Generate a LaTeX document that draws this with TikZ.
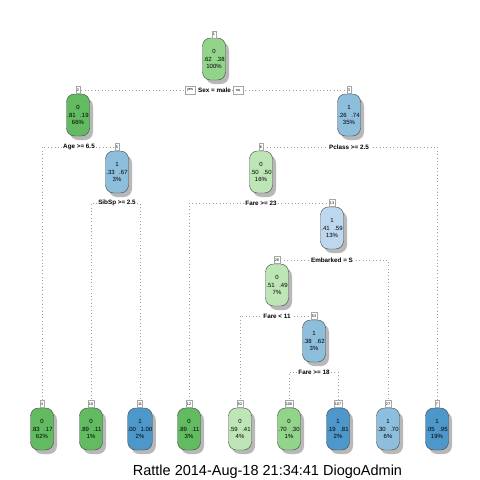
\documentclass[tikz,border=0pt]{standalone}
\usepackage{fontspec}
\setmainfont{Liberation Sans}
\usetikzlibrary{shadows}
\pgfdeclarelayer{bg}
\pgfdeclarelayer{back}
\pgfsetlayers{back,bg,main}
\definecolor{gD}{HTML}{62BB60}
\definecolor{gM}{HTML}{93D48B}
\definecolor{gL}{HTML}{BEE5B5}
\definecolor{bD}{HTML}{4E97CB}
\definecolor{bM}{HTML}{8DBEDC}
\definecolor{bL}{HTML}{BDD7EE}
\tikzset{
  tn/.style={draw=gray!55!black, line width=0.4pt, rounded corners=8pt,
    minimum width=23pt, minimum height=42pt, inner sep=0pt, align=center,
    font=\fontsize{6}{7.5}\selectfont,
    drop shadow={shadow xshift=3.5pt, shadow yshift=-4pt, fill=gray!65, opacity=0.85}},
  lab/.style={draw=gray!70, fill=white, line width=0.3pt,
    font=\fontsize{3.8}{4}\selectfont, inner sep=0.6pt,
    minimum height=7pt, minimum width=4.5pt},
  yn/.style={draw=gray!70, fill=white, line width=0.3pt,
    font=\fontsize{3.8}{4}\selectfont, inner sep=0.6pt,
    minimum height=8pt, minimum width=10pt},
  spl/.style={fill=white, font=\bfseries\fontsize{6.3}{7}\selectfont, inner sep=1.2pt},
  dl/.style={draw=gray!75, line width=0.7pt, dash pattern=on 0.7pt off 2.7pt},
}
\newcommand{\pr}[2]{#1\hspace{4.5pt}#2}
\begin{document}
\begin{tikzpicture}[x=1pt,y=-1pt]
\begin{pgfonlayer}{back}
\fill[white] (0,0) rectangle (480,480);
\end{pgfonlayer}
\useasboundingbox (0,0) rectangle (480,480);
% internal nodes
\node[tn, fill=gM] (n1) at (214,59) {0\\\pr{.62}{.38}\\100\%};
\node[tn, fill=gD] (n2) at (78,115) {0\\\pr{.81}{.19}\\66\%};
\node[tn, fill=bM] (n3) at (349,115) {1\\\pr{.26}{.74}\\35\%};
\node[tn, fill=bM] (n5) at (117,172) {1\\\pr{.33}{.67}\\3\%};
\node[tn, fill=gL] (n6) at (261,172) {0\\\pr{.50}{.50}\\16\%};
\node[tn, fill=bL] (n13) at (332,228) {1\\\pr{.41}{.59}\\13\%};
\node[tn, fill=gL] (n26) at (277,285) {0\\\pr{.51}{.49}\\7\%};
\node[tn, fill=bM] (n53) at (314,341) {1\\\pr{.38}{.62}\\3\%};
% leaves
\node[tn, fill=gD] (n4) at (42,429) {0\\\pr{.83}{.17}\\62\%};
\node[tn, fill=gD] (n10) at (91,429) {0\\\pr{.89}{.11}\\1\%};
\node[tn, fill=bD] (n11) at (140,429) {1\\\pr{.00}{1.00}\\2\%};
\node[tn, fill=gD] (n12) at (189,429) {0\\\pr{.89}{.11}\\3\%};
\node[tn, fill=gL] (n52) at (240,429) {0\\\pr{.59}{.41}\\4\%};
\node[tn, fill=gM] (n106) at (289,429) {0\\\pr{.70}{.30}\\1\%};
\node[tn, fill=bD] (n107) at (338,429) {1\\\pr{.19}{.81}\\2\%};
\node[tn, fill=bM] (n27) at (388,429) {1\\\pr{.30}{.70}\\6\%};
\node[tn, fill=bD] (n7) at (437,429) {1\\\pr{.05}{.95}\\19\%};
% number labels
\node[lab] (l1) at (214,34.5) {1};
\node[lab] (l2) at (78,90) {2};
\node[lab] (l3) at (349,90) {3};
\node[lab] (l5) at (117,147) {5};
\node[lab] (l6) at (261,147) {6};
\node[lab] (l13) at (332,203) {13};
\node[lab] (l26) at (277,260) {26};
\node[lab] (l53) at (314,316) {53};
\node[lab] (l4) at (42,404) {4};
\node[lab] (l10) at (91,404) {10};
\node[lab] (l11) at (140,404) {11};
\node[lab] (l12) at (189,404) {12};
\node[lab] (l52) at (240,404) {52};
\node[lab] (l106) at (289,404) {106};
\node[lab] (l107) at (338,404) {107};
\node[lab] (l27) at (388,404) {27};
\node[lab] (l7) at (437,404) {7};
% split labels
\node[spl] (s1) at (214.5,90) {Sex = male};
\node[yn] (yes1) at (190,90) {yes};
\node[yn] (no1) at (238,90) {no};
\node[spl] (s2) at (79,147) {Age >= 6.5};
\node[spl] (s3) at (349,147) {Pclass >= 2.5};
\node[spl] (s5) at (117,203) {SibSp >= 2.5};
\node[spl] (s6) at (261,203) {Fare >= 23};
\node[spl] (s13) at (332,260) {Embarked = S};
\node[spl] (s26) at (277,316) {Fare < 11};
\node[spl] (s53) at (314,372) {Fare >= 18};
% connectors
\begin{pgfonlayer}{bg}
\draw[dl] (s1.center) -| (l2.center);
\draw[dl] (s1.center) -| (l3.center);
\draw[dl] (s2.center) -| (l4.center);
\draw[dl] (s2.center) -| (l5.center);
\draw[dl] (s3.center) -| (l6.center);
\draw[dl] (s3.center) -| (l7.center);
\draw[dl] (s5.center) -| (l10.center);
\draw[dl] (s5.center) -| (l11.center);
\draw[dl] (s6.center) -| (l12.center);
\draw[dl] (s6.center) -| (l13.center);
\draw[dl] (s13.center) -| (l26.center);
\draw[dl] (s13.center) -| (l27.center);
\draw[dl] (s26.center) -| (l52.center);
\draw[dl] (s26.center) -| (l53.center);
\draw[dl] (s53.center) -| (l106.center);
\draw[dl] (s53.center) -| (l107.center);
\end{pgfonlayer}
\node[font=\fontsize{14.5}{16}\selectfont, anchor=base] (title) at (267.5,475) {Rattle 2014-Aug-18 21:34:41 DiogoAdmin};
\end{tikzpicture}
\end{document}
